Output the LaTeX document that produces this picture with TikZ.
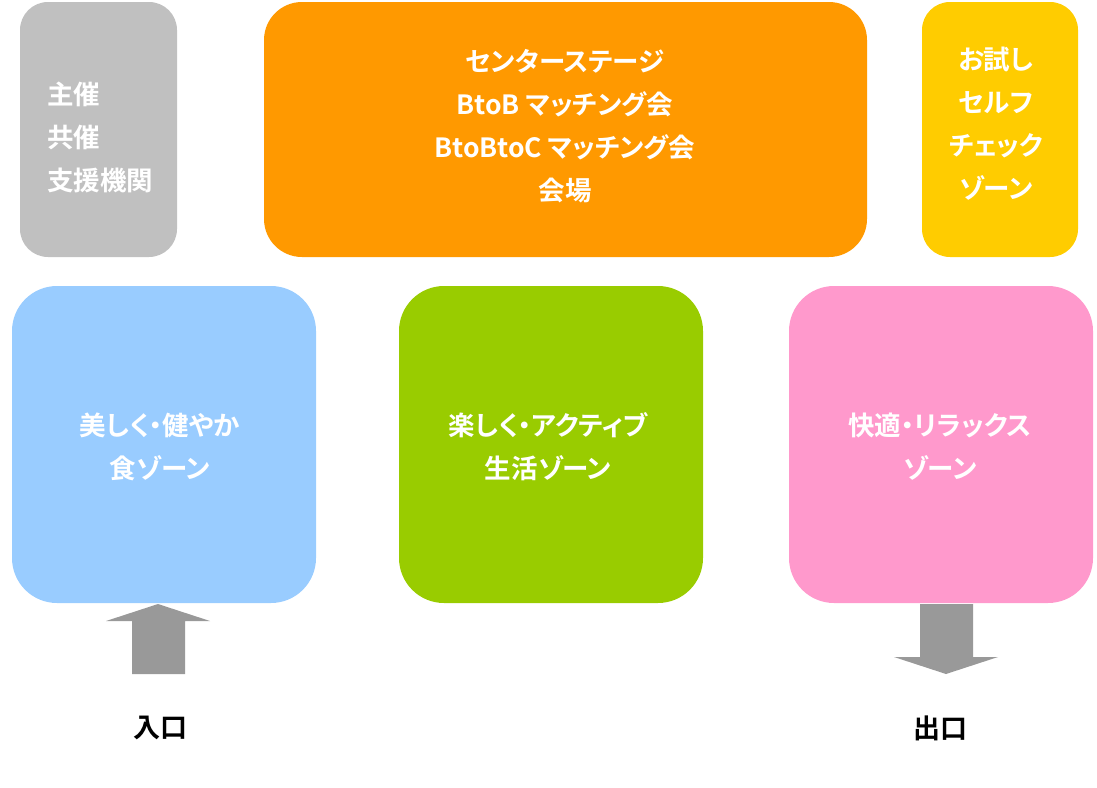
\documentclass[tikz,border=0pt]{standalone}
\usepackage{fontspec}
\newfontfamily\jp{Noto Sans CJK JP}[BoldFont={Noto Sans CJK JP Bold}, RawFeature=+palt]
\definecolor{cgray}{HTML}{C0C0C0}
\definecolor{corange}{HTML}{FF9900}
\definecolor{cyellow}{HTML}{FFCC00}
\definecolor{cblue}{HTML}{99CCFF}
\definecolor{cgreen}{HTML}{99CC00}
\definecolor{cpink}{HTML}{FF99CC}
\definecolor{carrow}{HTML}{999999}
\tikzset{
  zone/.style={draw=none, rounded corners=#1},
  ztext/.style={text=white, font=\jp\bfseries\fontsize{26.5}{43}\selectfont, align=center, inner sep=0pt},
  ltext/.style={text=black, font=\jp\bfseries\fontsize{27}{43}\selectfont, inner sep=0pt},
}
\begin{document}
\begin{tikzpicture}[x=1pt,y=-1pt]
\useasboundingbox (0,0) rectangle (1097,787);
% top row
\fill[cgray, zone=28] (20,2) rectangle (177,257);
\fill[corange, zone=38] (264,2) rectangle (867,257);
\fill[cyellow, zone=28] (922,2) rectangle (1078,257);
% middle row
\fill[cblue, zone=45] (12,286) rectangle (316,603);
\fill[cgreen, zone=45] (399,286) rectangle (703,603);
\fill[cpink, zone=45] (789,286) rectangle (1093,603);
% texts
\node[ztext, align=left, anchor=west] (organizers) at (47,137) {主催\\共催\\支援機関};
\node[ztext] (stage) at (565,126) {センターステージ\\BtoB マッチング会\\BtoBtoC マッチング会\\会場};
\node[ztext] (selfcheck) at (996,124) {お試し\\セルフ\\チェック\\ゾーン};
\node[ztext] (food) at (160,447) {美しく・健やか\\食ゾーン};
\node[ztext] (active) at (548,447) {楽しく・アクティブ\\生活ゾーン};
\node[ztext] (relax) at (940,447) {快適・リラックス\\ゾーン};
% arrows
\fill[carrow] (132,674) -- (132,621) -- (106,621) -- (158,604) -- (210,621) -- (185,621) -- (185,674) -- cycle;
\fill[carrow] (920,604) -- (920,657) -- (894,657) -- (946,674) -- (998,657) -- (973,657) -- (973,604) -- cycle;
\node[ltext] (entrance) at (160,728) {入口};
\node[ltext] (exit) at (940,728) {出口};
\end{tikzpicture}
\end{document}
